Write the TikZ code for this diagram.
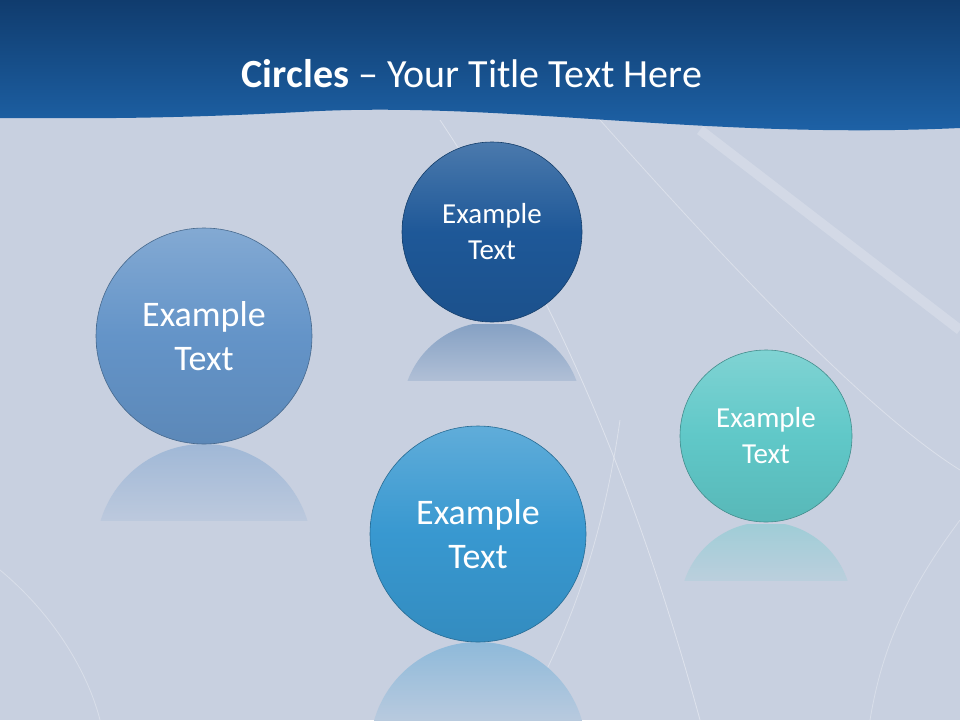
\documentclass[tikz,border=0pt]{standalone}
\usepackage{fontspec}
\setmainfont{Carlito}
\definecolor{bg}{RGB}{200,208,224}
\definecolor{hdA}{RGB}{16,60,110}
\definecolor{hdB}{RGB}{30,100,170}
\definecolor{c1}{RGB}{100,148,200}
\definecolor{c2}{RGB}{30,88,152}
\definecolor{c3}{RGB}{56,152,208}
\definecolor{c4}{RGB}{96,200,200}
\begin{document}
\begin{tikzpicture}[x=1pt,y=-1pt,
  ball/.style={circle,draw=#1!70!black,line width=0.6pt,text=white,align=center,inner sep=0pt,
     top color=#1!80!white,bottom color=#1!92!black,middle color=#1},
  refl/.style={top color=#1!40!bg,bottom color=bg,middle color=bg}]
\useasboundingbox (0,0) rectangle (960,720);
\fill[bg] (0,0) rectangle (960,720);
% light streaks
\draw[white,opacity=0.4,line width=0.8pt] (440,120) .. controls (560,300) and (640,500) .. (700,720);
\draw[white,opacity=0.35,line width=0.8pt] (600,120) .. controls (760,300) and (880,420) .. (960,470);
\draw[white,opacity=0.2,line width=10pt] (700,130) -- (960,330);
\draw[white,opacity=0.35,line width=0.8pt] (620,420) .. controls (600,560) and (560,650) .. (520,720);
\draw[white,opacity=0.3,line width=0.8pt] (960,520) .. controls (900,600) and (880,660) .. (870,720);
\draw[white,opacity=0.3,line width=0.8pt] (0,570) .. controls (60,620) and (90,680) .. (100,720);
% header
\shade[top color=hdA, bottom color=hdB]
  (0,0) -- (960,0) -- (960,128) .. controls (700,140) and (500,100) .. (300,112) .. controls (150,120) and (60,118) .. (0,118) -- cycle;
\node[text=white,font=\fontsize{40}{46}\selectfont] (title) at (472,74) {\textbf{Circles} -- Your Title Text Here};
% reflections
\begin{scope}
\clip (0,444) rectangle (960,520);
\shade[refl=c1] (204,552) circle (108);
\end{scope}
\begin{scope}
\clip (0,324) rectangle (960,380);
\shade[refl=c2] (492,412) circle (90);
\end{scope}
\begin{scope}
\clip (0,642) rectangle (960,720);
\shade[refl=c3] (478,750) circle (108);
\end{scope}
\begin{scope}
\clip (0,524) rectangle (960,580);
\shade[refl=c4] (766,608) circle (86);
\end{scope}
% balls
\node[ball=c1,minimum size=216pt,font=\fontsize{36}{44}\selectfont] (b1) at (204,336) {Example\\Text};
\node[ball=c2,minimum size=180pt,font=\fontsize{29}{36}\selectfont] (b2) at (492,232) {Example\\Text};
\node[ball=c3,minimum size=216pt,font=\fontsize{36}{44}\selectfont] (b3) at (478,534) {Example\\Text};
\node[ball=c4,minimum size=172pt,font=\fontsize{29}{36}\selectfont] (b4) at (766,436) {Example\\Text};
\end{tikzpicture}
\end{document}
